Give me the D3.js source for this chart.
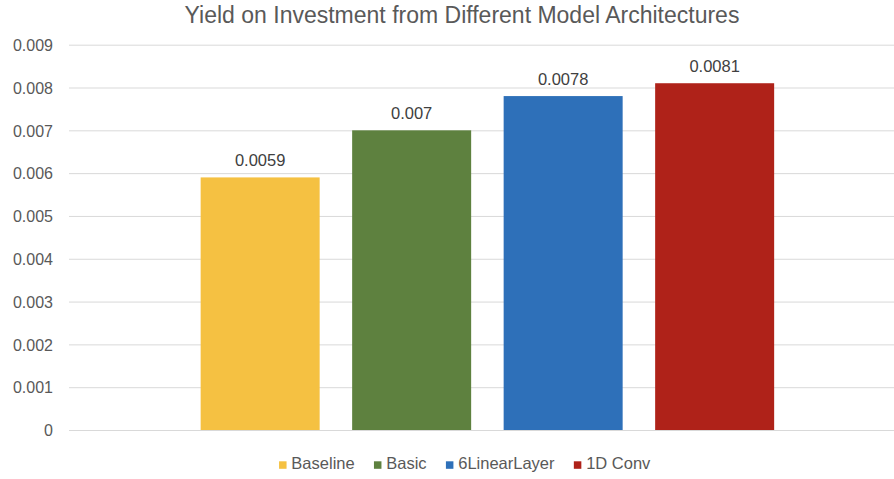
<!DOCTYPE html>
<html><head><meta charset="utf-8">
<script src="https://cdn.jsdelivr.net/npm/d3@7"></script>
<style>body{margin:0;background:#fff}svg{display:block;font-family:"Liberation Sans",Arial,sans-serif}</style>
</head><body><svg id="c" width="894" height="479"></svg>
<script>
const title = "Yield on Investment from Different Model Architectures";
const series = ["Baseline", "Basic", "6LinearLayer", "1D Conv"];
const values = [0.0059, 0.007, 0.0078, 0.0081];
const labels = ["0.0059", "0.007", "0.0078", "0.0081"];
const colors = ["#F5C142", "#5E813F", "#2E70B9", "#AF2219"];
const yTicks = [0, 0.001, 0.002, 0.003, 0.004, 0.005, 0.006, 0.007, 0.008, 0.009];
const yTickLabels = ["0", "0.001", "0.002", "0.003", "0.004", "0.005", "0.006", "0.007", "0.008", "0.009"];

const svg = d3.select("#c");
const plotL = 69, plotR = 894, plotT = 44.7, plotB = 430;
const text = "#595959";

const y = d3.scaleLinear().domain([0, 0.009]).range([plotB, plotT]);
const x = d3.scaleBand().domain(series).range([184.4, 790.4]).paddingInner(0.2145).paddingOuter(0.10725);

svg.append("text").attr("x", 462).attr("y", 22.5).attr("text-anchor", "middle")
  .attr("font-size", 23).attr("fill", text).text(title);

const yAxis = d3.axisLeft(y).tickValues(yTicks)
  .tickFormat((d, i) => yTickLabels[i]).tickSize(-(plotR - plotL)).tickPadding(16);
const g = svg.append("g").attr("transform", `translate(${plotL},0)`).call(yAxis);
g.select(".domain").remove();
g.selectAll(".tick line").attr("stroke", "#d9d9d9").attr("stroke-width", 1);
g.selectAll(".tick text").attr("fill", text).attr("font-size", 16)
  .attr("font-family", '"Liberation Sans",Arial,sans-serif').attr("dy", "0.36em");

svg.append("g").selectAll("rect").data(series).join("rect")
  .attr("x", d => x(d)).attr("width", x.bandwidth())
  .attr("y", (d, i) => y(values[i])).attr("height", (d, i) => plotB - y(values[i]))
  .attr("fill", (d, i) => colors[i]);

svg.append("g").selectAll("text").data(series).join("text")
  .attr("x", d => x(d) + x.bandwidth() / 2).attr("y", (d, i) => y(values[i]) - 11)
  .attr("text-anchor", "middle").attr("font-size", 16.5).attr("fill", "#404040")
  .text((d, i) => labels[i]);

// legend
const lg = svg.append("g");
const items = lg.selectAll("g").data(series).join("g");
items.append("rect").attr("width", 7.5).attr("height", 7.5).attr("y", 461.3)
  .attr("fill", (d, i) => colors[i]);
items.append("text").attr("x", 12.3).attr("y", 469).attr("font-size", 16.5)
  .attr("fill", text).text(d => d);
let cx = 0; const offs = [];
items.each(function(d, i) {
  const w = d3.select(this).select("text").node().getComputedTextLength();
  offs.push(cx); cx += 12.3 + w + 19.3;
});
const total = cx - 19.3;
const start = 464.7 - total / 2;
items.attr("transform", (d, i) => `translate(${start + offs[i]},0)`);
</script></body></html>
